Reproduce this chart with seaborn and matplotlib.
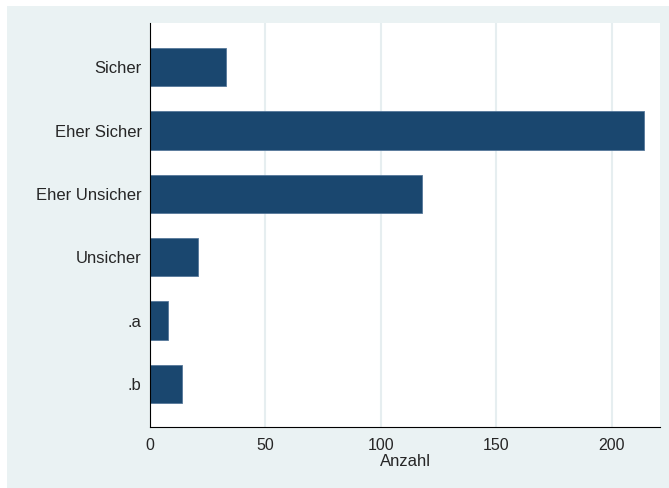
import matplotlib
matplotlib.use("Agg")
import matplotlib.pyplot as plt
import matplotlib.patches as mpatches
import pandas as pd
import seaborn as sns

# data
categories = ["Sicher", "Eher Sicher", "Eher Unsicher", "Unsicher", ".a", ".b"]
counts = [33, 214, 118, 21, 8, 14]
xticks = [0, 50, 100, 150, 200]

df = pd.DataFrame({"kategorie": categories, "anzahl": counts})

sns.set_style("white")
plt.rcParams["font.family"] = ["Liberation Sans", "DejaVu Sans"]

W, H = 669, 488
fig = plt.figure(figsize=(W / 100, H / 100), dpi=100)
fig.patch.set_facecolor("white")
# Stata-style light backdrop with a small white border top/left
fig.patches.append(mpatches.Rectangle((7 / W, 0), 1 - 7 / W, 1 - 6 / H,
                                      transform=fig.transFigure,
                                      facecolor="#eaf2f3", edgecolor="none", zorder=-10))

ax = fig.add_axes([150 / W, 1 - 427 / H, (660 - 150) / W, (427 - 23) / H])
ax.set_facecolor("white")

sns.barplot(data=df, x="anzahl", y="kategorie", orient="h", color="#1a476f",
            width=0.605, saturation=1, edgecolor="#56779a", linewidth=0.6, ax=ax)

ax.set_xlim(0, 221)
ax.set_ylim(5.68, -0.70)
ax.set_xticks(xticks)
ax.set_xticklabels([str(t) for t in xticks], fontsize=11.5)
ax.tick_params(axis="x", length=5, width=0.8, color="black", pad=3, direction="out")
ax.tick_params(axis="y", length=0, pad=6, labelsize=12)
ax.set_xlabel("Anzahl", fontsize=12, labelpad=1)
ax.set_ylabel("")

ax.xaxis.grid(True, color="#e6eef0", linewidth=1.5)
ax.set_axisbelow(True)
for side in ["top", "right"]:
    ax.spines[side].set_visible(False)
for side in ["left", "bottom"]:
    ax.spines[side].set_color("black")
    ax.spines[side].set_linewidth(0.8)

fig.savefig("out.png", dpi=100, facecolor=fig.get_facecolor())
